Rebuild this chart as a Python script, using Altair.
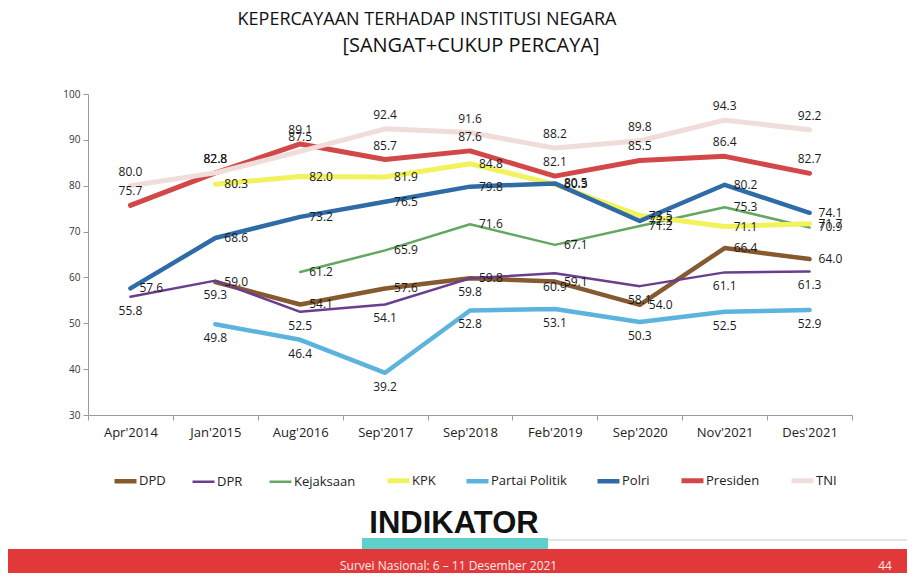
import altair as alt
import pandas as pd

# ---------------- data ----------------
categories = ["Apr'2014", "Jan'2015", "Aug'2016", "Sep'2017", "Sep'2018",
              "Feb'2019", "Sep'2020", "Nov'2021", "Des'2021"]
series_names = ["DPD", "DPR", "Kejaksaan", "KPK", "Partai Politik",
                "Polri", "Presiden", "TNI"]

dpd       = [None, 59.0, 54.1, 57.6, 59.8, 59.1, 54.0, 66.4, 64.0]
dpr       = [55.8, 59.3, 52.5, 54.1, 59.8, 60.9, 58.1, 61.1, 61.3]
kejaksaan = [None, None, 61.2, 65.9, 71.6, 67.1, 71.2, 75.3, 70.9]
kpk       = [None, 80.3, 82.0, 81.9, 84.8, 80.3, 73.5, 71.1, 71.7]
partai    = [None, 49.8, 46.4, 39.2, 52.8, 53.1, 50.3, 52.5, 52.9]
polri     = [57.6, 68.6, 73.2, 76.5, 79.8, 80.5, 72.3, 80.2, 74.1]
presiden  = [75.7, 82.8, 89.1, 85.7, 87.6, 82.1, 85.5, 86.4, 82.7]
tni       = [80.0, 82.8, 87.5, 92.4, 91.6, 88.2, 89.8, 94.3, 92.2]

y_ticks = [30, 40, 50, 60, 70, 80, 90, 100]

# ---------------- styles ----------------
colors = ["#86592F", "#6A3E8E", "#62A862", "#F2F25C", "#5CB3DE",
          "#2F6BA6", "#D24848", "#F0DCD8"]
widths = [4.5, 2.5, 2.5, 5, 4.5, 4.5, 5, 5]
label_side = ["right", "below", "right", "right", "below", "right", "above", "above"]

all_values = [dpd, dpr, kejaksaan, kpk, partai, polri, presiden, tni]
rows = []
for name, vals, side in zip(series_names, all_values, label_side):
    for cat, v in zip(categories, vals):
        if v is not None:
            rows.append({"category": cat, "series": name, "value": v, "side": side})
df = pd.DataFrame(rows)

FONT = "Open Sans"

x_enc = alt.X(
    "category:N",
    scale=alt.Scale(type="band", domain=categories, paddingInner=0, paddingOuter=0),
    bandPosition=0.5,
    axis=alt.Axis(title=None, tickBand="extent", tickSize=5, tickColor="#9a9a9a",
                  domainColor="#9a9a9a", labelFontSize=13, labelColor="#222222",
                  labelPadding=6, labelAngle=0, labelFont=FONT, grid=False),
)
y_enc = alt.Y(
    "value:Q",
    scale=alt.Scale(domain=[30, 100], nice=False, zero=False),
    axis=alt.Axis(title=None, values=y_ticks, tickSize=5, tickColor="#9a9a9a",
                  domainColor="#9a9a9a", labelFontSize=10, labelColor="#333333",
                  labelPadding=3, labelFont=FONT, grid=False),
)

base = alt.Chart(df)

lines = base.mark_line(strokeJoin="round", strokeCap="round").encode(
    x=x_enc,
    y=y_enc,
    color=alt.Color(
        "series:N",
        scale=alt.Scale(domain=series_names, range=colors),
        legend=alt.Legend(title=None, orient="none", legendX=24, legendY=373,
                          direction="horizontal", columns=8, symbolType="stroke",
                          symbolStrokeWidth=4, symbolSize=484, labelFontSize=13,
                          labelFont=FONT, labelColor="#222222", columnPadding=21,
                          labelOffset=0, symbolOpacity=1),
    ),
    strokeWidth=alt.StrokeWidth("series:N",
                                scale=alt.Scale(type="ordinal", domain=series_names,
                                                range=widths),
                                legend=None),
)

txt_kw = dict(fontSize=12, font=FONT, color="#1a1a1a")
lab_right = base.transform_filter(alt.datum.side == "right").mark_text(
    align="left", baseline="middle", dx=9, **txt_kw
).encode(x=x_enc, y=y_enc, text=alt.Text("value:Q", format=".1f"))
lab_above = base.transform_filter(alt.datum.side == "above").mark_text(
    align="center", baseline="middle", dy=-14, **txt_kw
).encode(x=x_enc, y=y_enc, text=alt.Text("value:Q", format=".1f"))
lab_below = base.transform_filter(alt.datum.side == "below").mark_text(
    align="center", baseline="middle", dy=14, **txt_kw
).encode(x=x_enc, y=y_enc, text=alt.Text("value:Q", format=".1f"))

one = pd.DataFrame({"k": [0]})
deco = alt.Chart(one)

title1 = deco.mark_text(text="KEPERCAYAAN TERHADAP INSTITUSI NEGARA", fontSize=18,
                        font=FONT, color="#111111", align="center", baseline="middle"
                        ).encode(x=alt.value(339), y=alt.value(-74))
title2 = deco.mark_text(text="[SANGAT+CUKUP PERCAYA]", fontSize=20,
                        font=FONT, color="#111111", align="center", baseline="middle"
                        ).encode(x=alt.value(383), y=alt.value(-48))

footer = deco.mark_rect(color="#E1393A").encode(
    x=alt.value(-80), x2=alt.value(819), y=alt.value(455), y2=alt.value(490))
gray_line = deco.mark_rule(color="#c8c8c8", strokeWidth=1).encode(
    x=alt.value(460), x2=alt.value(819), y=alt.value(446))
teal = deco.mark_rect(color="#5ECFCB").encode(
    x=alt.value(274), x2=alt.value(460), y=alt.value(444), y2=alt.value(455))
logo = deco.mark_text(text="INDIKATOR", fontSize=31, fontWeight="bold",
                      font="Liberation Sans", color="#111111", align="center",
                      baseline="middle").encode(x=alt.value(366), y=alt.value(430))
foot_txt = deco.mark_text(text="Survei Nasional: 6 \u2013 11 Desember 2021", fontSize=12,
                          font=FONT, color="#FCE9E9", align="left", baseline="middle"
                          ).encode(x=alt.value(252), y=alt.value(472))
page_no = deco.mark_text(text="44", fontSize=12, font=FONT, color="#FCE9E9",
                         align="center", baseline="middle"
                         ).encode(x=alt.value(797), y=alt.value(472))

chart = alt.layer(
    lines, lab_right, lab_above, lab_below,
    title1, title2, footer, gray_line, teal, logo, foot_txt, page_no
).properties(
    width=764, height=321,
    padding={"left": 80, "top": 86, "right": 55, "bottom": 158},
    autosize=alt.AutoSizeParams(type="none"),
    background="white",
).configure_view(stroke=None)

chart.save("out.html", embed_options={"renderer": "svg", "actions": False})
